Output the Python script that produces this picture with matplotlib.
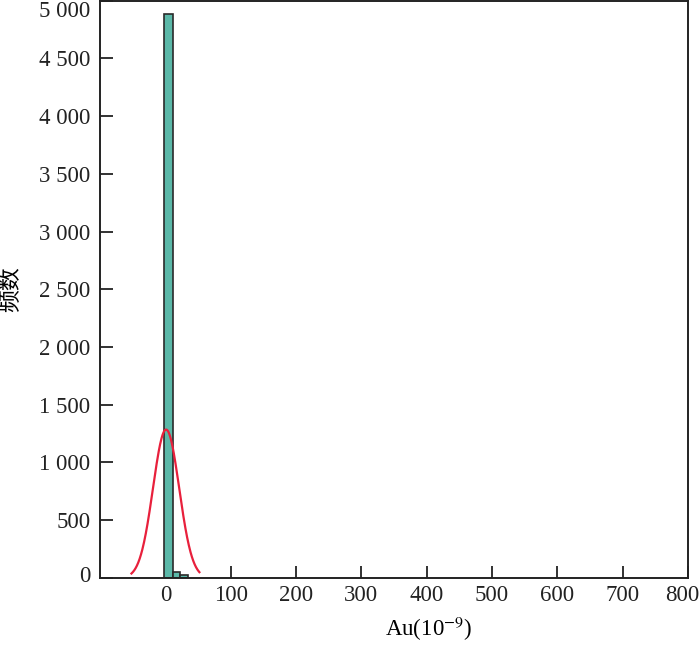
import matplotlib
matplotlib.use('Agg')
import matplotlib.pyplot as plt
import matplotlib.transforms as mtransforms
import numpy as np

plt.rcParams['font.family'] = ['Liberation Serif', 'Noto Sans CJK SC', 'DejaVu Sans']
plt.rcParams['mathtext.fontset'] = 'stix'

# histogram bins (Au, 10^-9) and counts
bin_edges = [-2, 11, 23, 35]
counts = [4880, 52, 22]

# fitted normal curve parameters
fit_mean = 1.0
fit_sigma = 20.0
fit_peak = 1285
fit_range = (-52, 52)

y_ticks = [0, 500, 1000, 1500, 2000, 2500, 3000, 3500, 4000, 4500, 5000]
y_labels = ['0', '500', '1 000', '1 500', '2 000', '2 500', '3 000',
            '3 500', '4 000', '4 500', '5 000']
x_ticks = [0, 100, 200, 300, 400, 500, 600, 700, 800]

fig = plt.figure(figsize=(7, 6.45), dpi=100)
ax = fig.add_axes([0.143, 0.104, 0.840, 0.895])

widths = np.diff(bin_edges)
ax.bar(bin_edges[:-1], counts, width=widths, align='edge',
       color='#5bb8a8', edgecolor='#2a2a2a', linewidth=1.2, zorder=2)

xs = np.linspace(fit_range[0], fit_range[1], 200)
ys = fit_peak * np.exp(-0.5 * ((xs - fit_mean) / fit_sigma) ** 2)
ax.plot(xs, ys, color='#e8203c', linewidth=1.6, zorder=3)

ax.set_xlim(-100, 800)
ax.set_ylim(0, 5000)
ax.set_xticks(x_ticks)
ax.set_yticks(y_ticks)
ax.set_yticklabels(y_labels)
ax.tick_params(direction='in', length=9, width=1.3, labelsize=16.5, pad=7,
               colors='#222222')
ax.tick_params(axis='x', pad=5)
for s in ax.spines.values():
    s.set_linewidth(1.4)
    s.set_color('#222222')


def shift(label, dx, dy):
    label.set_transform(label.get_transform()
                        + mtransforms.ScaledTranslation(dx / 100, dy / 100,
                                                        fig.dpi_scale_trans))


# keep the end labels inside the figure
ylab = ax.get_yticklabels()
ylab[-1].set_verticalalignment('top')
shift(ylab[0], 0, 4)
xlab = ax.get_xticklabels()
shift(xlab[-1], -6, 0)

ax.set_xlabel('Au(10$^{-9}$)', fontsize=16.5, va='center')
ax.xaxis.set_label_coords(0.558, -0.088)
ax.set_ylabel('频数', fontsize=16.5, va='center')
ax.yaxis.set_label_coords(-0.15, 0.5)

fig.savefig('out.png', dpi=100)
